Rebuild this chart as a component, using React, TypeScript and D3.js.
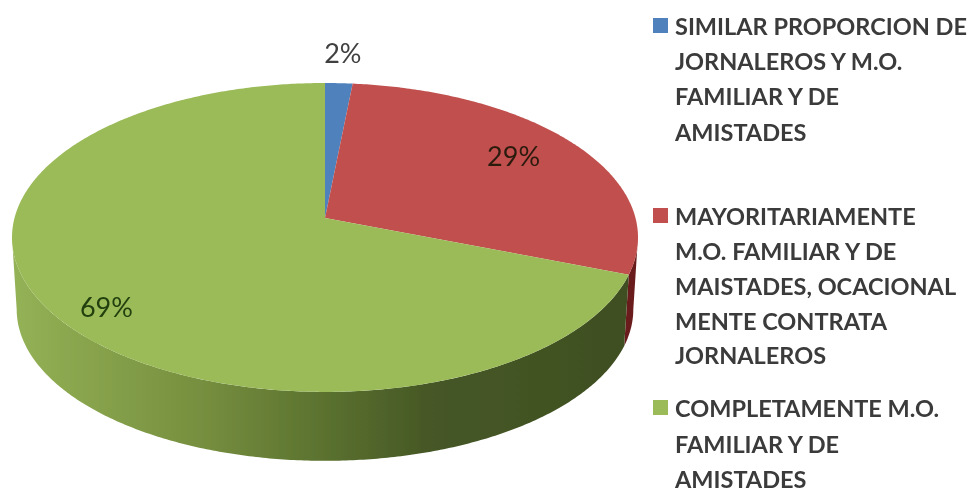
import React from "react";
import * as d3 from "d3";

const categories = ["similar", "mayoritariamente", "completamente"];
const shares = [1.6, 29.2, 69.2];
const sliceColors = ["#4f81bd", "#c0504d", "#9bbb59"];
const legendLines = [
  ["SIMILAR PROPORCION DE", "JORNALEROS Y M.O.", "FAMILIAR Y DE", "AMISTADES"],
  ["MAYORITARIAMENTE", "M.O. FAMILIAR Y DE", "MAISTADES, OCACIONAL", "MENTE CONTRATA", "JORNALEROS"],
  ["COMPLETAMENTE M.O.", "FAMILIAR Y DE", "AMISTADES"],
];
const legendLineY = [
  [35, 70, 105, 141],
  [225, 260, 295, 330, 364],
  [417, 453, 488],
];
const labelRadius = [1.25, 0.72, 0.83];
const labelNudge = [[1, -2], [7, -8], [7, 12]];
const labelColors = ["#404040", "#2b1a10", "#234010"];

const width = 971;
const height = 492;
const cx = 325;
const apexY = 218;
const rx = 310.5;
const ry = 152;
const tilt = 0.126;
const wallCenterY = 238;
const wallDrop = 72;

// circle -> perspective ellipse, angle clockwise from 12 o'clock
const project = (a: number, r = 1): [number, number] => {
  const u = r * Math.sin(a);
  const v = r * Math.cos(a);
  const w = 1 + tilt * v;
  return [cx + (rx * u) / w, apexY - (ry * v) / w];
};
const projectBottom = (a: number): [number, number] => {
  const [x, y] = project(a);
  return [cx + (x - cx) * 0.985, wallCenterY + (y - wallCenterY) * 0.98 + wallDrop];
};

const samples = (a0: number, a1: number) => {
  const n = Math.max(2, Math.ceil(Math.abs(a1 - a0) / 0.01));
  return d3.range(n + 1).map((i) => a0 + ((a1 - a0) * i) / n);
};

export default function App() {
  const arcs = d3
    .pie<number>()
    .sort(null)
    .value((d) => d)(shares);
  const line = d3.line().curve(d3.curveLinear);
  const pct = d3.format(".0f");

  const topFace = (a0: number, a1: number) =>
    line([project(0, 0), ...samples(a0, a1).map((a) => project(a))]) + "Z";

  // only the part of the rim facing the viewer gets a wall
  const wall = (a0: number, a1: number) => {
    const from = Math.max(a0, Math.PI / 2 + tilt);
    const to = Math.min(a1, (3 * Math.PI) / 2 - tilt);
    if (to <= from) return null;
    const s = samples(from, to);
    return line([...s.map((a) => project(a)), ...s.reverse().map(projectBottom)]) + "Z";
  };

  return (
    <svg
      width={width}
      height={height}
      style={{ position: "absolute", left: 0, top: 0, background: "#fff" }}
      fontFamily="Lato, 'Open Sans', sans-serif"
    >
      <defs>
        <linearGradient id="greenWall" gradientUnits="userSpaceOnUse" x1={12} x2={640} y1={0} y2={0}>
          <stop offset="0" stopColor="#94b256" />
          <stop offset="0.1" stopColor="#8aa64e" />
          <stop offset="0.3" stopColor="#768f3f" />
          <stop offset="0.48" stopColor="#5d7430" />
          <stop offset="0.66" stopColor="#465826" />
          <stop offset="1" stopColor="#3f4e22" />
        </linearGradient>
        <filter id="soft" x="-5%" y="-5%" width="110%" height="110%">
          <feGaussianBlur stdDeviation="0.7" />
        </filter>
      </defs>

      <g filter="url(#soft)">
        {arcs.map((d, i) => {
          const p = wall(d.startAngle, d.endAngle);
          return p ? (
            <path key={categories[i]} d={p} fill={i === 2 ? "url(#greenWall)" : "#6b1f1d"} />
          ) : null;
        })}
        {arcs.map((d, i) => (
          <path key={categories[i]} d={topFace(d.startAngle, d.endAngle)} fill={sliceColors[i]} />
        ))}
      </g>

      <g filter="url(#soft)">
        {arcs.map((d, i) => {
          const [x, y] = project((d.startAngle + d.endAngle) / 2, labelRadius[i]);
          return (
            <text
              key={categories[i]}
              x={x + labelNudge[i][0]}
              y={y + labelNudge[i][1]}
              textAnchor="middle"
              dominantBaseline="central"
              fontSize={27}
              fill={labelColors[i]}
            >
              {pct(d.data)}%
            </text>
          );
        })}

        {legendLines.map((lines, i) => (
          <g key={categories[i]}>
            <rect x={653} y={legendLineY[i][0] - 17} width={15} height={15} fill={sliceColors[i]} />
            {lines.map((t, j) => (
              <text
                key={j}
                x={675}
                y={legendLineY[i][j]}
                fontSize={23.5}
                fontWeight={700}
                fill="#3a3a3a"
              >
                {t}
              </text>
            ))}
          </g>
        ))}
      </g>
    </svg>
  );
}
